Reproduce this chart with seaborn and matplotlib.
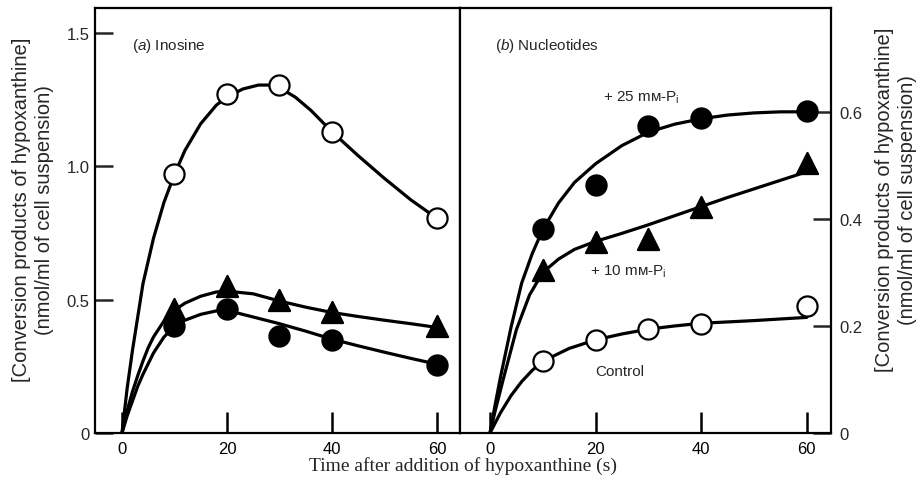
import matplotlib
matplotlib.use("Agg")
import matplotlib.pyplot as plt
import seaborn as sns
import pandas as pd

# ---------------- data ----------------
time_pts = [10, 20, 30, 40, 60]

# (a) Inosine
a_open = [0.97, 1.27, 1.305, 1.13, 0.805]
a_tri = [0.465, 0.553, 0.50, 0.455, 0.40]
a_fill = [0.40, 0.466, 0.365, 0.35, 0.256]

# (b) Nucleotides
b_25 = [0.381, 0.464, 0.574, 0.589, 0.602]
b_10 = [0.304, 0.357, 0.362, 0.423, 0.504]
b_ctrl = [0.134, 0.174, 0.194, 0.204, 0.238]

# fitted curves as drawn in the figure
a_open_cx = [0, 1, 2, 4, 6, 8, 10, 12, 15, 18, 20, 23, 26, 28, 30, 33, 36, 40, 45, 50, 55, 60]
a_open_cy = [0, 0.17, 0.31, 0.56, 0.73, 0.865, 0.97, 1.06, 1.16, 1.23, 1.26, 1.29, 1.305, 1.305,
             1.295, 1.26, 1.21, 1.13, 1.04, 0.955, 0.875, 0.805]
a_tri_cx = [0, 1, 2, 3, 4, 5, 6, 8, 10, 12, 15, 18, 20, 25, 30, 35, 40, 45, 50, 55, 60]
a_tri_cy = [0, 0.085, 0.155, 0.215, 0.27, 0.32, 0.36, 0.42, 0.46, 0.487, 0.513, 0.529, 0.532,
            0.522, 0.495, 0.472, 0.452, 0.437, 0.423, 0.41, 0.396]
a_fill_cx = [0, 1, 2, 3, 4, 5, 6, 8, 10, 12, 15, 18, 20, 25, 30, 35, 40, 45, 50, 55, 60]
a_fill_cy = [0, 0.065, 0.12, 0.175, 0.22, 0.26, 0.30, 0.36, 0.40, 0.423, 0.445, 0.458, 0.46,
             0.435, 0.41, 0.382, 0.352, 0.327, 0.303, 0.28, 0.258]

b_25_cx = [0, 1, 2, 4, 6, 8, 10, 13, 16, 20, 25, 30, 35, 40, 45, 50, 55, 60]
b_25_cy = [0, 0.054, 0.105, 0.198, 0.28, 0.335, 0.38, 0.43, 0.468, 0.503, 0.537, 0.562,
           0.577, 0.587, 0.594, 0.598, 0.6, 0.6]
b_10_cx = [0, 1, 2.5, 5, 7.5, 10, 13, 16, 20, 25, 30, 35, 40, 45, 50, 55, 60]
b_10_cy = [0, 0.042, 0.10, 0.193, 0.258, 0.30, 0.325, 0.343, 0.358, 0.373, 0.389, 0.406,
           0.423, 0.44, 0.456, 0.472, 0.488]
b_ctrl_cx = [0, 2, 4, 6, 8, 10, 15, 20, 25, 30, 35, 40, 50, 60]
b_ctrl_cy = [0, 0.038, 0.07, 0.096, 0.117, 0.134, 0.158, 0.174, 0.185, 0.194, 0.2, 0.205,
             0.21, 0.216]

x_ticks = [0, 20, 40, 60]
x_tick_labels = ["0", "20", "40", "60"]
a_y_ticks = [0, 0.5, 1.0, 1.5]
a_y_tick_labels = ["0", "0.5", "1.0", "1.5"]
b_y_ticks = [0, 0.2, 0.4, 0.6]
b_y_tick_labels = ["0", "0.2", "0.4", "0.6"]

ylabel = "[Conversion products of hypoxanthine]\n(nmol/ml of cell suspension)"
xlabel = "Time after addition of hypoxanthine (s)"

# ---------------- styling ----------------
sns.set_style("white")
plt.rcParams["font.family"] = ["Liberation Sans", "DejaVu Sans"]
plt.rcParams["mathtext.fontset"] = "custom"
plt.rcParams["mathtext.rm"] = "Liberation Sans"
plt.rcParams["mathtext.it"] = "Liberation Sans:italic"

W, H = 918, 485
fig = plt.figure(figsize=(W / 100, H / 100), dpi=100)
ax1 = fig.add_axes([95 / W, 51 / H, 365 / W, 425 / H])
ax2 = fig.add_axes([460 / W, 51 / H, 371 / W, 425 / H])

LW = 2.3
MS = 210


def draw_curve(ax, cx, cy):
    sns.lineplot(x=cx, y=cy, ax=ax, color="black", lw=LW, sort=False,
                 estimator=None, zorder=2)


def draw_points(ax, ys, marker, filled, size=MS):
    df = pd.DataFrame({"t": time_pts, "v": ys})
    sns.scatterplot(data=df, x="t", y="v", ax=ax, marker=marker, s=size,
                    color="black" if filled else "white",
                    edgecolor="black", linewidth=1.6, zorder=3, clip_on=False)


# (a)
draw_curve(ax1, a_open_cx, a_open_cy)
draw_curve(ax1, a_tri_cx, a_tri_cy)
draw_curve(ax1, a_fill_cx, a_fill_cy)
draw_points(ax1, a_open, "o", False)
draw_points(ax1, a_tri, "^", True, 230)
draw_points(ax1, a_fill, "o", True)

# (b)
draw_curve(ax2, b_25_cx, b_25_cy)
draw_curve(ax2, b_10_cx, b_10_cy)
draw_curve(ax2, b_ctrl_cx, b_ctrl_cy)
draw_points(ax2, b_25, "o", True)
draw_points(ax2, b_10, "^", True, 230)
draw_points(ax2, b_ctrl, "o", False)

ax1.set_xlim(-5.14, 64.4)
ax1.set_ylim(0, 1.594)
ax2.set_xlim(-5.68, 64.6)
ax2.set_ylim(0, 0.794)

for ax in (ax1, ax2):
    for s in ax.spines.values():
        s.set_linewidth(1.6)
        s.set_color("black")
    ax.set_xticks(x_ticks)
    ax.set_xticklabels(x_tick_labels)
    ax.set_xlabel("")
    ax.set_ylabel("")
    ax.tick_params(axis="x", direction="in", length=15, width=1.8, labelsize=12,
                   pad=6, bottom=True, top=False, colors="black")

ax1.set_yticks(a_y_ticks)
ax1.set_yticklabels(a_y_tick_labels)
ax1.tick_params(axis="y", direction="in", length=13, width=1.8, labelsize=12, pad=4,
                left=True, right=False)

ax2.yaxis.tick_right()
ax2.set_yticks(b_y_ticks)
ax2.set_yticklabels(b_y_tick_labels)
ax2.tick_params(axis="y", direction="in", length=13, width=1.8, labelsize=12, pad=6,
                left=False, right=True)

# panel texts
FS = 11
ax1.text(1.9, 1.455, "($\\it{a}$) Inosine", fontsize=FS, ha="left", va="center")
ax2.text(0.95, 0.725, "($\\it{b}$) Nucleotides", fontsize=FS, ha="left", va="center")
ax2.text(21.4, 0.628, "+ 25 mᴍ-P$_\\mathregular{i}$", fontsize=FS, ha="left", va="center")
ax2.text(18.9, 0.303, "+ 10 mᴍ-P$_\\mathregular{i}$", fontsize=FS, ha="left", va="center")
ax2.text(19.9, 0.116, "Control", fontsize=FS, ha="left", va="center")

# axis labels
fig.text(33 / W, 1 - 210 / H, ylabel, rotation=90, ha="center", va="center",
         fontsize=14.5, multialignment="center", linespacing=1.25)
fig.text(896 / W, 1 - 200 / H, ylabel, rotation=90, ha="center", va="center",
         fontsize=14.5, multialignment="center", linespacing=1.25)
fig.text(463 / W, 1 - 466 / H, xlabel, ha="center", va="center", fontsize=14,
         family=["Liberation Serif", "DejaVu Serif"])

fig.savefig("out.png", dpi=100, facecolor="white")
